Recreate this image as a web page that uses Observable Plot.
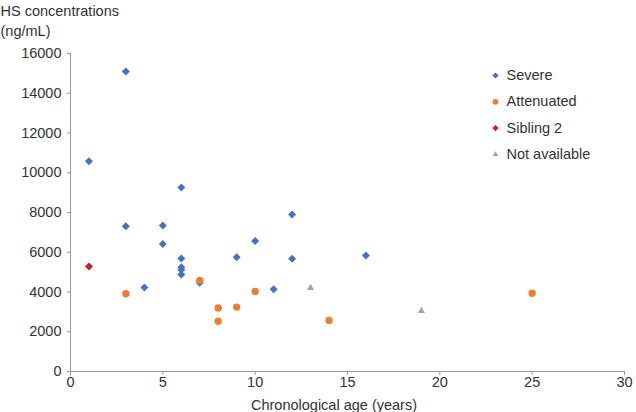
<!DOCTYPE html>
<html>
<head>
<meta charset="utf-8">
<script src="https://cdn.jsdelivr.net/npm/d3@7"></script>
<script src="https://cdn.jsdelivr.net/npm/@observablehq/plot@0.6"></script>
<style>
  html, body { margin: 0; padding: 0; background: #fff; }
</style>
</head>
<body>
<div id="chart"></div>
<script>
// ---- data ----
const groups = ["Severe", "Attenuated", "Sibling 2", "Not available"];
const groupColors = ["#4472C4", "#ED7D31", "#C8202A", "#A5A5A5"];
const groupSymbols = ["diamond2", "circle", "diamond2", "triangle"];

const severeAge = [1, 3, 3, 4, 5, 5, 6, 6, 6, 6, 6, 7, 9, 10, 11, 12, 12, 16];
const severeHS  = [10580, 15090, 7310, 4230, 7350, 6420, 9260, 5690, 5250, 5120, 4880, 4460, 5750, 6560, 4140, 7900, 5670, 5840];

const attenuatedAge = [3, 7, 8, 8, 9, 10, 14, 25];
const attenuatedHS  = [3910, 4580, 3200, 2530, 3240, 4030, 2570, 3940];

const siblingAge = [1];
const siblingHS  = [5280];

const naAge = [13, 19];
const naHS  = [4210, 3050];

const xTicks = [0, 5, 10, 15, 20, 25, 30];
const yTicks = [0, 2000, 4000, 6000, 8000, 10000, 12000, 14000, 16000];

const yTitle = "HS concentrations\n(ng/mL)";
const xTitle = "Chronological age (years)";

// ---- build table ----
const ages = [severeAge, attenuatedAge, siblingAge, naAge];
const vals = [severeHS, attenuatedHS, siblingHS, naHS];
const rows = [];
groups.forEach((g, i) => ages[i].forEach((a, j) => rows.push({group: g, age: a, hs: vals[i][j]})));

const radius = {"Severe": 3.6, "Attenuated": 3.7, "Sibling 2": 3.6, "Not available": 2.7};

const pointMarks = groups.map((g, i) =>
  Plot.dot(rows.filter(d => d.group === g), {
    x: "age", y: "hs",
    symbol: () => groupSymbols[i],
    fill: groupColors[i],
    r: radius[g],
    stroke: "none"
  })
);

const legendMarks = groups.flatMap((g, i) => [
  Plot.dot([g], {
    frameAnchor: "top-left", dx: 425, dy: 22 + i * 26.3,
    symbol: () => groupSymbols[i], fill: groupColors[i], r: radius[g] * 0.78
  }),
  Plot.text([g], {
    frameAnchor: "top-left", dx: 436, dy: 22 + i * 26.3,
    text: d => d, textAnchor: "start", lineAnchor: "middle", fill: "#333"
  })
]);

const chart = Plot.plot({
  width: 636,
  height: 412,
  marginLeft: 70,
  marginRight: 12,
  marginTop: 53,
  marginBottom: 41,
  style: {fontFamily: "'Liberation Sans', Arial, Helvetica, sans-serif", fontSize: "14.5px", color: "#333", background: "#fff"},
  x: {domain: [0, 30]},
  y: {domain: [0, 16000]},
  marks: [
    Plot.axisX({ticks: xTicks, tickSize: 4, tickPadding: 1, label: null, stroke: "#999", fill: "#333", tickFormat: d => String(d)}),
    Plot.axisY({ticks: yTicks, tickSize: 3, tickPadding: 6, label: null, stroke: "#999", fill: "#333", tickFormat: d => String(d)}),
    Plot.ruleX([0], {stroke: "#999"}),
    Plot.ruleY([0], {stroke: "#999"}),
    ...pointMarks,
    ...legendMarks,
    Plot.text([yTitle], {frameAnchor: "top-left", dx: -70, dy: -51.3, text: d => d, textAnchor: "start", lineAnchor: "top", lineHeight: 1.35, fill: "#333"}),
    Plot.text([xTitle], {frameAnchor: "bottom", dx: -13.5, dy: 33.4, text: d => d, textAnchor: "middle", lineAnchor: "middle", fill: "#333"})
  ]
});
document.getElementById("chart").append(chart);
</script>
</body>
</html>
